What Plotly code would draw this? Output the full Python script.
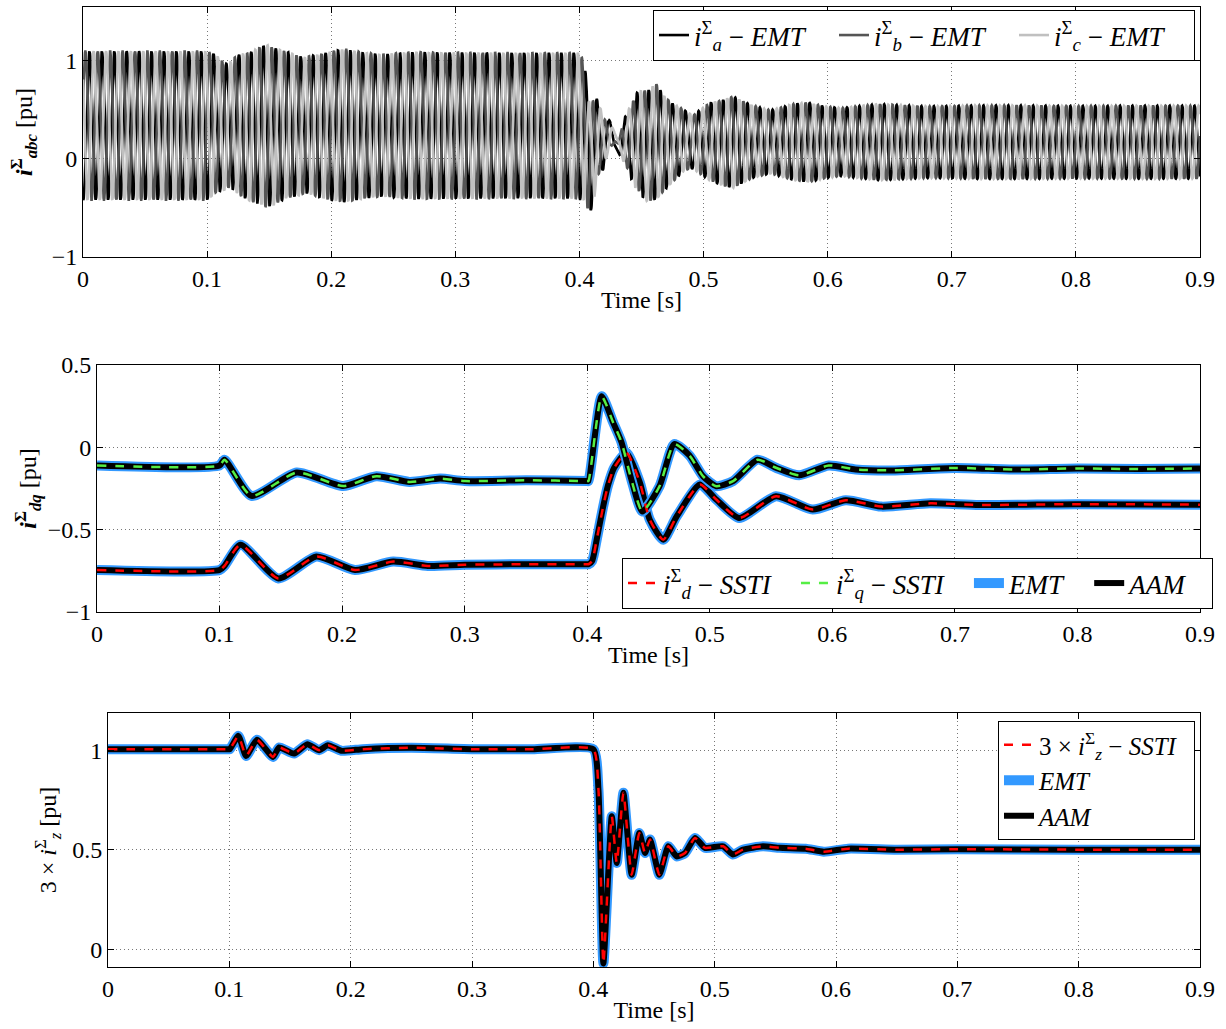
import numpy as np
import plotly.graph_objects as go

# ---------------- data ----------------
# Panel 2: dq components of the sum (circulating) current [pu]
id_t = [0, 0.1, 0.104, 0.117, 0.148, 0.179, 0.2105, 0.2417, 0.27, 0.3, 0.35, 0.4, 0.401,
        0.404, 0.408, 0.413, 0.417, 0.422, 0.432, 0.443, 0.451, 0.462, 0.473, 0.492, 0.5053,
        0.524, 0.554, 0.584, 0.611, 0.64, 0.68, 0.72, 0.8, 0.9]
id_v = [-0.745, -0.745, -0.72, -0.592, -0.796, -0.663, -0.745, -0.694, -0.72, -0.713, -0.71, -0.71, -0.71,
        -0.69, -0.55, -0.36, -0.23, -0.124, -0.033, -0.215, -0.439, -0.561, -0.419, -0.226, -0.317,
        -0.429, -0.297, -0.378, -0.321, -0.36, -0.34, -0.35, -0.345, -0.348]

iq_t = [0, 0.1, 0.104, 0.126, 0.163, 0.201, 0.228, 0.255, 0.28, 0.3, 0.35, 0.4, 0.401,
        0.4118, 0.4212, 0.428, 0.436, 0.445, 0.459, 0.471, 0.4835, 0.4944, 0.5053, 0.519,
        0.539, 0.554, 0.573, 0.597, 0.619, 0.65, 0.7, 0.75, 0.8, 0.85, 0.9]
iq_v = [-0.11, -0.11, -0.075, -0.295, -0.153, -0.235, -0.175, -0.21, -0.19, -0.205, -0.2, -0.205, -0.205,
        0.31, 0.15, 0.03, -0.195, -0.39, -0.236, 0.02, -0.05, -0.175, -0.236, -0.205,
        -0.075, -0.124, -0.17, -0.11, -0.134, -0.14, -0.125, -0.135, -0.128, -0.132, -0.128]

# Panel 3: 3 x zero-sequence sum current [pu]
iz3_t = [0, 0.1, 0.1005, 0.1075, 0.1138, 0.1228, 0.136, 0.141, 0.1533, 0.1643, 0.174, 0.1813,
         0.1923, 0.21, 0.25, 0.3, 0.35, 0.4, 0.4042, 0.4083, 0.4152, 0.4193, 0.4248, 0.4316,
         0.4379, 0.4426, 0.4467, 0.4544, 0.4618, 0.4687, 0.4756, 0.4838, 0.492, 0.507, 0.515,
         0.5233, 0.5398, 0.5535, 0.575, 0.59, 0.61, 0.65, 0.7, 0.8, 0.9]
iz3_v = [1.005, 1.005, 1.005, 1.072, 0.971, 1.052, 0.966, 1.014, 0.983, 1.03, 1.0, 1.025,
         0.997, 1.005, 1.012, 1.005, 1.005, 1.005, 0.803, -0.072, 0.668, 0.433, 0.786, 0.374,
         0.584, 0.483, 0.551, 0.374, 0.517, 0.466, 0.483, 0.559, 0.509, 0.517, 0.475,
         0.5, 0.517, 0.509, 0.505, 0.49, 0.505, 0.5, 0.502, 0.5, 0.5]

f_grid = 50.0          # grid frequency [Hz]; sum current is a 2nd-harmonic neg.-sequence
x_ticks = [0, 0.1, 0.2, 0.3, 0.4, 0.5, 0.6, 0.7, 0.8, 0.9]
x_tick_text = ["0", "0.1", "0.2", "0.3", "0.4", "0.5", "0.6", "0.7", "0.8", "0.9"]
y1_ticks, y1_text = [-1, 0, 1], ["−1", "0", "1"]
y2_ticks, y2_text = [-1, -0.5, 0, 0.5], ["−1", "−0.5", "0", "0.5"]
y3_ticks, y3_text = [0, 0.5, 1], ["0", "0.5", "1"]

# ---------------- Panel 1: abc signals from inverse dq0 transform ----------------
t = np.arange(0, 0.9 + 1e-9, 0.0002)
i_d = np.interp(t, id_t, id_v)
i_q = np.interp(t, iq_t, iq_v)
i_z = np.interp(t, iz3_t, iz3_v) / 3.0
theta = -2 * 2 * np.pi * f_grid * t
phases = []
for k in range(3):
    th = theta - k * 2 * np.pi / 3
    phases.append(i_z + i_d * np.cos(th) - i_q * np.sin(th))

W, H = 1226, 1029
FONT = "Liberation Serif"
PAD = "&nbsp;&nbsp;&nbsp;"

fig = go.Figure()

abc_cols = ["#000000", "#555555", "#c0c0c0"]
abc_names = ["<i>i</i><sup>Σ</sup><sub><i>a</i></sub> − <i>EMT</i>",
             "<i>i</i><sup>Σ</sup><sub><i>b</i></sub> − <i>EMT</i>",
             "<i>i</i><sup>Σ</sup><sub><i>c</i></sub> − <i>EMT</i>"]
for k in range(3):
    fig.add_trace(go.Scatter(x=t, y=phases[k], mode="lines", name=abc_names[k],
                             line=dict(color=abc_cols[k], width=2.6),
                             xaxis="x", yaxis="y", legend="legend"))

BLUE = "#3399ff"
GREEN = "#55ee44"
RED = "#ff0000"

# Panel 2
for nm, tt, vv in [("d", id_t, id_v), ("q", iq_t, iq_v)]:
    fig.add_trace(go.Scatter(x=tt, y=vv, mode="lines", name="<i>EMT</i>" + PAD,
                             line=dict(color=BLUE, width=10, shape="spline", smoothing=0.6),
                             xaxis="x2", yaxis="y2", legend="legend2",
                             showlegend=(nm == "d"), legendrank=3))
    fig.add_trace(go.Scatter(x=tt, y=vv, mode="lines", name="<i>AAM</i>" + PAD,
                             line=dict(color="black", width=6, shape="spline", smoothing=0.6),
                             xaxis="x2", yaxis="y2", legend="legend2",
                             showlegend=(nm == "d"), legendrank=4))
for nm, tt, vv, col, rank in [("d", id_t, id_v, RED, 1), ("q", iq_t, iq_v, GREEN, 2)]:
    fig.add_trace(go.Scatter(x=tt, y=vv, mode="lines",
                             name="<i>i</i><sup>Σ</sup><sub><i>%s</i></sub> − <i>SSTI</i>" % nm + PAD,
                             line=dict(color=col, width=2.5, dash="dash", shape="spline", smoothing=0.6),
                             xaxis="x2", yaxis="y2", legend="legend2", legendrank=rank))

# Panel 3
fig.add_trace(go.Scatter(x=iz3_t, y=iz3_v, mode="lines", name="<i>EMT</i>",
                         line=dict(color=BLUE, width=10, shape="spline", smoothing=0.5),
                         xaxis="x3", yaxis="y3", legend="legend3", legendrank=2))
fig.add_trace(go.Scatter(x=iz3_t, y=iz3_v, mode="lines", name="<i>AAM</i>",
                         line=dict(color="black", width=6, shape="spline", smoothing=0.5),
                         xaxis="x3", yaxis="y3", legend="legend3", legendrank=3))
fig.add_trace(go.Scatter(x=iz3_t, y=iz3_v, mode="lines",
                         name="3 × <i>i</i><sup>Σ</sup><sub><i>z</i></sub> − <i>SSTI</i>&nbsp;&nbsp;",
                         line=dict(color=RED, width=2.5, dash="dash", shape="spline", smoothing=0.5),
                         xaxis="x3", yaxis="y3", legend="legend3", legendrank=1))


def px_x(a, b):
    return [a / W, b / W]


def px_y(top, bot):
    return [1 - bot / H, 1 - top / H]


GRID = dict(showgrid=True, gridcolor="#777777", griddash="1px,3px", gridwidth=1)


def xax(dom, anchor):
    return dict(domain=dom, anchor=anchor, range=[0, 0.9], tickvals=x_ticks, ticktext=x_tick_text,
                showline=True, linecolor="black", linewidth=1, mirror="ticks",
                ticks="inside", ticklen=6, tickcolor="black",
                zeroline=False, automargin=False, **GRID,
                tickfont=dict(family=FONT, size=24, color="black"),
                title=dict(text="Time [s]", font=dict(family=FONT, size=24, color="black"), standoff=0))


def yax(dom, anchor, rng, tv, tt, title, standoff):
    return dict(domain=dom, anchor=anchor, range=rng, tickvals=tv, ticktext=tt,
                showline=True, linecolor="black", linewidth=1, mirror="ticks",
                ticks="inside", ticklen=6, tickcolor="black",
                zeroline=False, automargin=False, **GRID,
                tickfont=dict(family=FONT, size=24, color="black"),
                title=dict(text=title, font=dict(family=FONT, size=24, color="black"), standoff=standoff))


leg_common = dict(bgcolor="white", bordercolor="black", borderwidth=1,
                  font=dict(family=FONT, size=27, color="black"))

fig.update_layout(
    width=W, height=H, paper_bgcolor="white", plot_bgcolor="white",
    margin=dict(l=0, r=0, t=0, b=0), showlegend=True,
    xaxis=xax(px_x(83, 1200), "y"),
    yaxis=yax(px_y(7, 257), "x", [-1, 1.54], y1_ticks, y1_text,
              "<b><i>i</i></b><sup><b>Σ</b></sup><sub><b><i>abc</i></b></sub> [pu]", 12),
    xaxis2=xax(px_x(97, 1200), "y2"),
    yaxis2=yax(px_y(365, 612), "x2", [-1, 0.5], y2_ticks, y2_text,
               "<b><i>i</i></b><sup><b>Σ</b></sup><sub><b><i>dq</i></b></sub> [pu]", 4),
    xaxis3=xax(px_x(108, 1200), "y3"),
    yaxis3=yax(px_y(713, 967), "x3", [-0.09, 1.187], y3_ticks, y3_text,
               "3 × <i>i</i><sup>Σ</sup><sub><i>z</i></sub> [pu]", 8),
    legend=dict(orientation="h", x=1195 / W, xanchor="right", y=1 - 10 / H, yanchor="top",
                itemwidth=30, entrywidth=135, entrywidthmode="pixels", **leg_common),
    legend2=dict(orientation="h", x=1213 / W, xanchor="right", y=1 - 558 / H, yanchor="top",
                 itemwidth=30, traceorder="normal", **leg_common),
    legend3=dict(orientation="v", x=1195 / W, xanchor="right", y=1 - 721 / H, yanchor="top",
                 tracegroupgap=0, traceorder="normal",
                 bgcolor="white", bordercolor="black", borderwidth=1,
                 font=dict(family=FONT, size=25, color="black")),
)

fig.write_html("out.html", config={"displayModeBar": False},
               post_script="document.body.style.margin='0';document.body.style.overflow='hidden';")
